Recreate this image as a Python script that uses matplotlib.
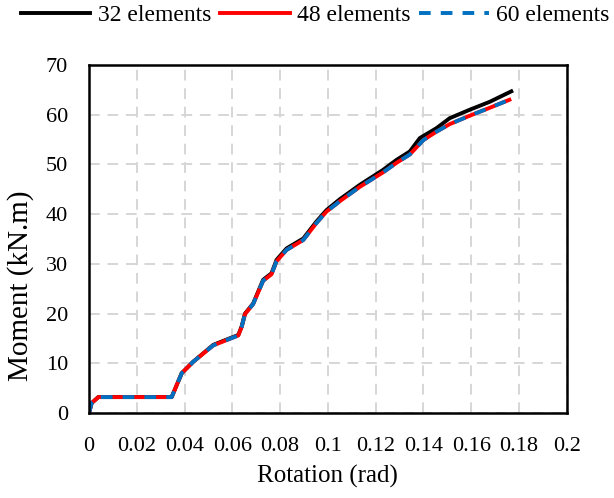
import numpy as np
import matplotlib.pyplot as plt

plt.rcParams['font.family'] = ['Liberation Serif', 'DejaVu Serif']

# 32 elements
rot_32 = [0, 0.0011, 0.0039, 0.0346, 0.0388, 0.0436, 0.052, 0.0625, 0.0639, 0.0653,
          0.0687, 0.0729, 0.0764, 0.0785, 0.0827, 0.0897, 0.0952, 0.0994, 0.105,
          0.1134, 0.1231, 0.1287, 0.1343, 0.1385, 0.1455, 0.151, 0.1594, 0.1678, 0.1768]
mom_32 = [0, 2.0, 3.2, 3.2, 8.0, 10.3, 13.7, 15.7, 17.4, 20.0,
          22.0, 26.8, 28.1, 30.8, 33.1, 35.1, 38.5, 40.8, 43.0,
          45.9, 48.9, 50.9, 52.6, 55.3, 57.3, 59.3, 61.0, 62.6, 64.7]

# 48 elements
rot_48 = [0, 0.0011, 0.0039, 0.0346, 0.0388, 0.0436, 0.052, 0.0625, 0.0639, 0.0653,
          0.0687, 0.0729, 0.0764, 0.0785, 0.0827, 0.0897, 0.0952, 0.0994, 0.105,
          0.1134, 0.1231, 0.1287, 0.1343, 0.14, 0.1455, 0.151, 0.1594, 0.1678, 0.176]
mom_48 = [0, 2.0, 3.2, 3.2, 8.0, 10.3, 13.6, 15.6, 17.3, 19.9,
          21.9, 26.6, 27.9, 30.5, 32.8, 34.8, 38.2, 40.5, 42.6,
          45.5, 48.4, 50.3, 52.0, 54.9, 56.6, 58.1, 59.8, 61.4, 63.0]

# 60 elements
rot_60 = rot_48
mom_60 = mom_48

xtick_labels = ['0', '0.02', '0.04', '0.06', '0.08', '0.1', '0.12', '0.14', '0.16', '0.18', '0.2']

fig = plt.figure(figsize=(6.14, 4.98), dpi=100)
ax = fig.add_axes([0.145, 0.1707, 0.778, 0.6988])

ax.plot(rot_32, mom_32, color='black', lw=2.8, label='32 elements')
ax.plot(rot_48, mom_48, color='#FF0000', lw=2.8, label='48 elements')
ax.plot(rot_60, mom_60, color='#0070C0', lw=2.8, ls=(0, (3, 2.6)), label='60 elements')

ax.set_xlim(0, 0.2)
ax.set_ylim(0, 70)
ax.set_xticks(np.arange(0, 0.201, 0.02))
ax.set_xticklabels(xtick_labels)
ax.set_yticks(np.arange(0, 71, 10))
ax.tick_params(length=0, labelsize=16)
ax.tick_params(axis='x', pad=17)
ax.tick_params(axis='y', pad=15)
ax.grid(True, color='#D6D6D6', ls=(0, (5.5, 4)), lw=1.4)
for s in ax.spines.values():
    s.set_linewidth(1.8)
    s.set_color('black')

ax.set_xlabel('Rotation (rad)', fontsize=18, labelpad=7)
ax.set_ylabel('Moment (kN.m)', fontsize=21)
ax.yaxis.set_label_coords(-0.115, 0.365)

fig.legend(loc='center', bbox_to_anchor=(0.513, 0.969), ncol=3, frameon=False,
           fontsize=17, handlelength=2.95, columnspacing=0.38, handletextpad=0.3)

fig.savefig('out.png', dpi=100)
